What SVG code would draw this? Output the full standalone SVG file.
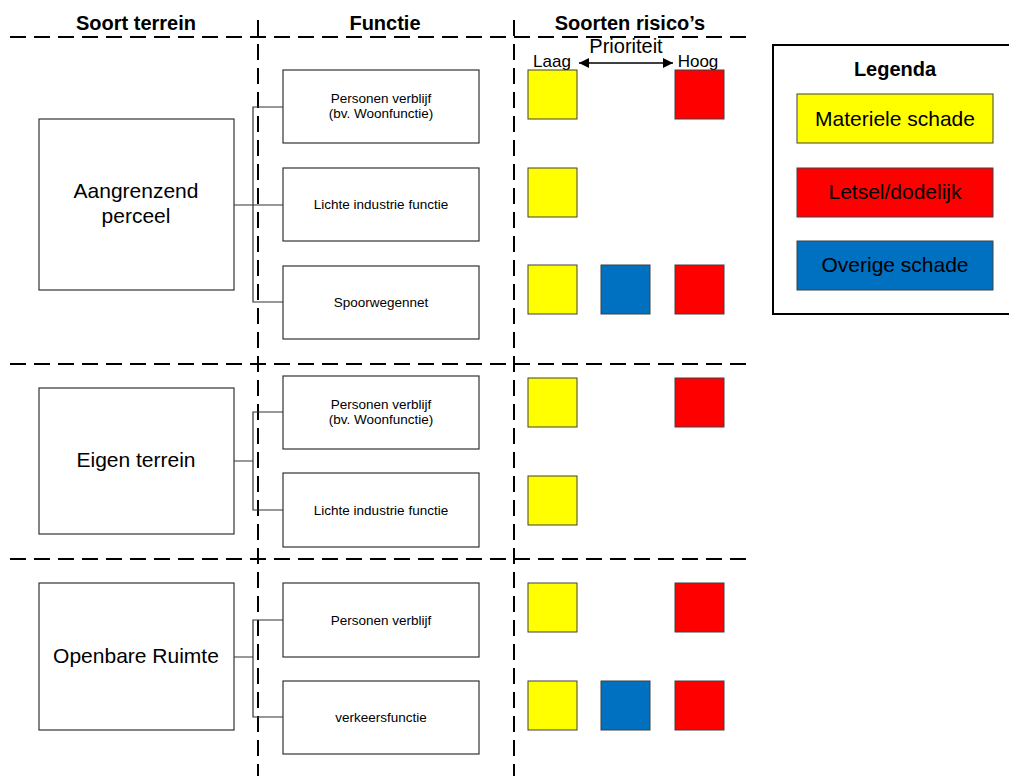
<svg xmlns="http://www.w3.org/2000/svg" width="1009" height="776" viewBox="0 0 1009 776">
<style>
.bg{fill:#fff}
.dash{stroke:#000;stroke-width:2;stroke-dasharray:16 8;fill:none}
.node{fill:#fff;stroke:#333;stroke-width:1.2}
.conn{stroke:#333;stroke-width:1.2;fill:none}
.hdr{font-family:"Liberation Sans",Arial,sans-serif;font-weight:bold;font-size:20px;text-anchor:middle;fill:#000}
.big{font-family:"Liberation Sans",Arial,sans-serif;font-size:21px;text-anchor:middle;fill:#000}
.small{font-family:"Liberation Sans",Arial,sans-serif;font-size:13.5px;text-anchor:middle;fill:#000}
.mid{font-family:"Liberation Sans",Arial,sans-serif;font-size:17px;text-anchor:middle;fill:#000}
.y{fill:#ffff00;stroke:#404040;stroke-width:1}
.r{fill:#ff0000;stroke:#404040;stroke-width:1}
.b{fill:#0070c0;stroke:#404040;stroke-width:1}
</style>
<defs>
<marker id="ah" viewBox="0 0 10 10" refX="10" refY="5" markerWidth="15" markerHeight="10" markerUnits="userSpaceOnUse" orient="auto-start-reverse">
<path d="M0,0 L10,5 L0,10 z" fill="#000"/>
</marker>
</defs>
<rect class="bg" x="0" y="0" width="1009" height="776"/>

<g id="grid">
<line class="dash" x1="10" y1="37" x2="750" y2="37"/>
<line class="dash" x1="10" y1="364" x2="750" y2="364"/>
<line class="dash" x1="10" y1="559" x2="750" y2="559"/>
<line class="dash" x1="258" y1="20" x2="258" y2="776"/>
<line class="dash" x1="514" y1="20" x2="514" y2="776"/>
</g>

<g id="headers">
<text class="hdr" x="136" y="30">Soort terrein</text>
<text class="hdr" x="385" y="30">Functie</text>
<text class="hdr" x="630" y="30">Soorten risico’s</text>
</g>

<g id="priority">
<text class="big" x="626" y="53" style="font-size:20px">Prioriteit</text>
<text class="mid" x="552" y="67">Laag</text>
<text class="mid" x="698" y="67">Hoog</text>
<line x1="579" y1="63" x2="673" y2="63" stroke="#000" stroke-width="1.5" marker-start="url(#ah)" marker-end="url(#ah)"/>
</g>

<g id="connectors">
<path class="conn" d="M234,205 H283 M283,107 H253 V302 H283"/>
<path class="conn" d="M234,461 H253 M283,412 H253 V510 H283"/>
<path class="conn" d="M234,657 H253 M283,620 H253 V717 H283"/>
</g>

<g id="aangrenzend">
<rect class="node" x="39" y="119" width="195" height="171"/>
<text class="big" x="136" y="198">Aangrenzend</text>
<text class="big" x="136" y="223">perceel</text>
</g>
<g id="eigen">
<rect class="node" x="39" y="388" width="195" height="146"/>
<text class="big" x="136" y="467">Eigen terrein</text>
</g>
<g id="openbare">
<rect class="node" x="39" y="583" width="195" height="147"/>
<text class="big" x="136" y="663">Openbare Ruimte</text>
</g>

<g id="f1">
<rect class="node" x="283" y="70" width="196" height="73"/>
<text class="small" x="381" y="103">Personen verblijf</text>
<text class="small" x="381" y="118">(bv. Woonfunctie)</text>
</g>
<g id="f2">
<rect class="node" x="283" y="168" width="196" height="73"/>
<text class="small" x="381" y="209">Lichte industrie functie</text>
</g>
<g id="f3">
<rect class="node" x="283" y="266" width="196" height="73"/>
<text class="small" x="381" y="307">Spoorwegennet</text>
</g>
<g id="f4">
<rect class="node" x="283" y="376" width="196" height="73"/>
<text class="small" x="381" y="409">Personen verblijf</text>
<text class="small" x="381" y="424">(bv. Woonfunctie)</text>
</g>
<g id="f5">
<rect class="node" x="283" y="473" width="196" height="74"/>
<text class="small" x="381" y="515">Lichte industrie functie</text>
</g>
<g id="f6">
<rect class="node" x="283" y="583" width="196" height="74"/>
<text class="small" x="381" y="625">Personen verblijf</text>
</g>
<g id="f7">
<rect class="node" x="283" y="681" width="196" height="73"/>
<text class="small" x="381" y="722">verkeersfunctie</text>
</g>

<g id="risks">
<rect class="y" x="528" y="70" width="49" height="49"/>
<rect class="r" x="675" y="70" width="49" height="49"/>
<rect class="y" x="528" y="168" width="49" height="49"/>
<rect class="y" x="528" y="265" width="49" height="49"/>
<rect class="b" x="601" y="265" width="49" height="49"/>
<rect class="r" x="675" y="265" width="49" height="49"/>
<rect class="y" x="528" y="378" width="49" height="49"/>
<rect class="r" x="675" y="378" width="49" height="49"/>
<rect class="y" x="528" y="476" width="49" height="49"/>
<rect class="y" x="528" y="583" width="49" height="49"/>
<rect class="r" x="675" y="583" width="49" height="49"/>
<rect class="y" x="528" y="681" width="49" height="49"/>
<rect class="b" x="601" y="681" width="49" height="49"/>
<rect class="r" x="675" y="681" width="49" height="49"/>
</g>

<g id="legend">
<rect x="773" y="45" width="250" height="269" fill="#fff" stroke="#000" stroke-width="2"/>
<text class="hdr" x="895" y="76">Legenda</text>
<rect class="y" x="797" y="94" width="196" height="49"/>
<text class="big" x="895" y="126">Materiele schade</text>
<rect class="r" x="797" y="168" width="196" height="49"/>
<text class="big" x="895" y="199">Letsel/dodelijk</text>
<rect class="b" x="797" y="241" width="196" height="49"/>
<text class="big" x="895" y="272">Overige schade</text>
</g>
</svg>
